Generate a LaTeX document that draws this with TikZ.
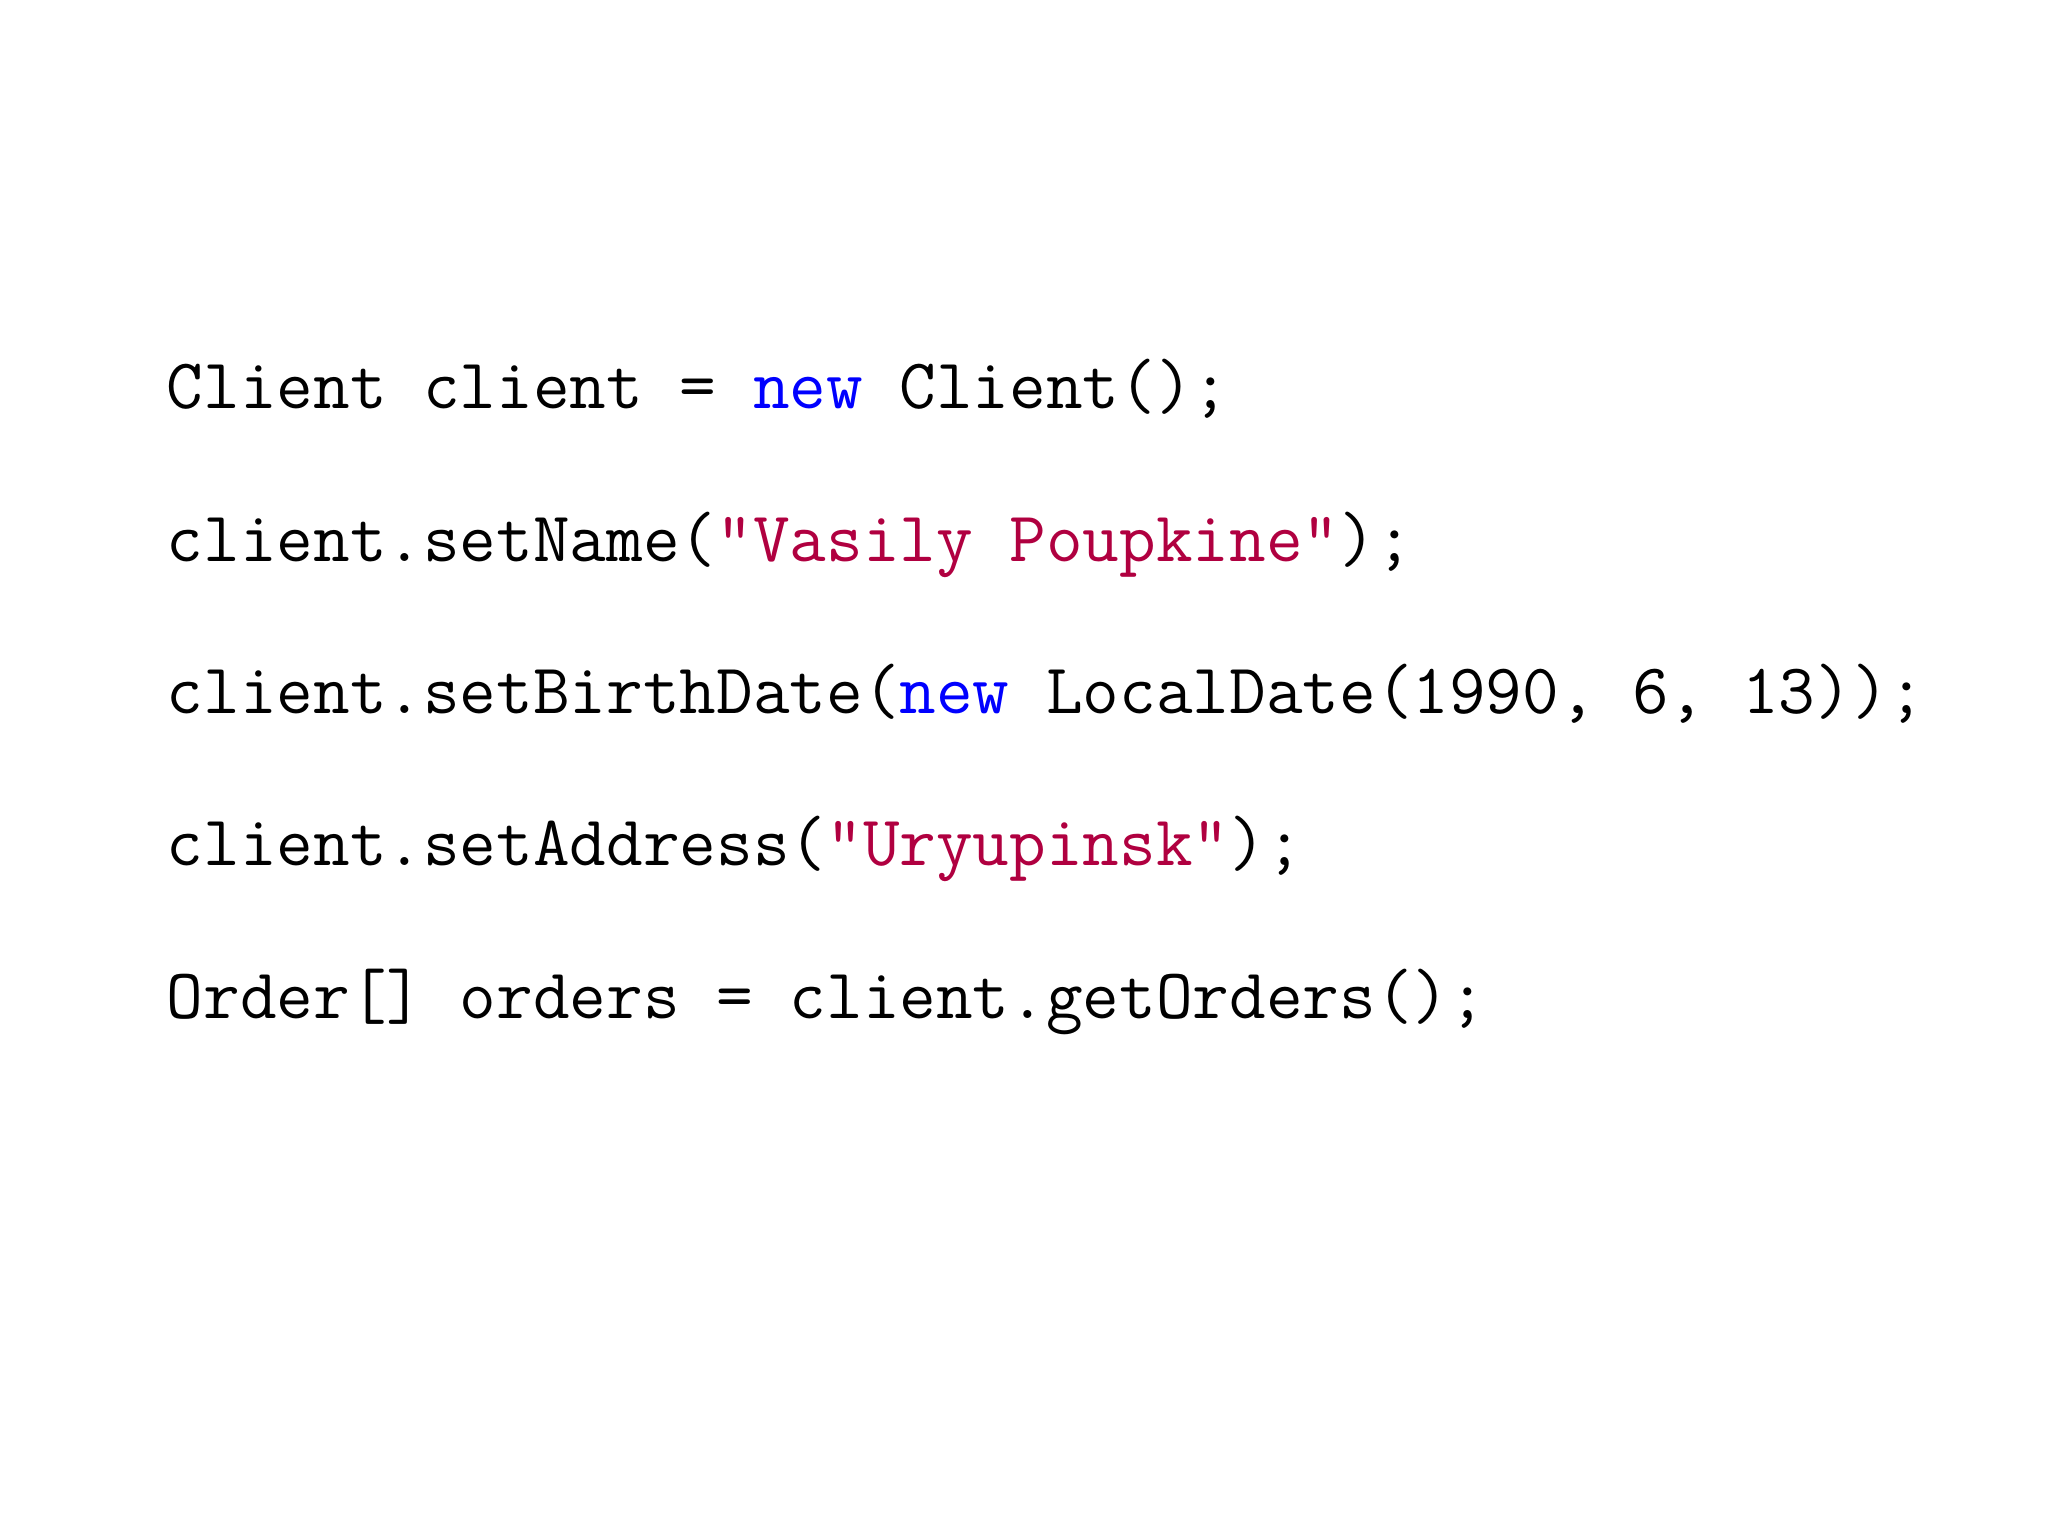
\documentclass[tikz,border=0pt]{standalone}
\definecolor{kw}{RGB}{0,0,255}
\definecolor{str}{RGB}{176,0,64}
\tikzset{code/.style={anchor=base west,inner sep=0pt,font=\ttfamily\fontsize{15.5}{18}\selectfont}}
\newcommand{\kwd}[1]{\textcolor{kw}{#1}}
\newcommand{\strg}[1]{\textcolor{str}{#1}}
\begin{document}
\begin{tikzpicture}[x=1mm,y=1mm]
\useasboundingbox (0,0) rectangle (156.8,117.6);
\node[code] (l1) at (12.7,86.3) {Client client = \kwd{new} Client();};
\node[code] (l2) at (12.7,74.6) {client.setName(\strg{"Vasily Poupkine"});};
\node[code] (l3) at (12.7,63.0) {client.setBirthDate(\kwd{new} LocalDate(1990, 6, 13));};
\node[code] (l4) at (12.7,51.3) {client.setAddress(\strg{"Uryupinsk"});};
\node[code] (l5) at (12.7,39.6) {Order[] orders = client.getOrders();};
\end{tikzpicture}
\end{document}
